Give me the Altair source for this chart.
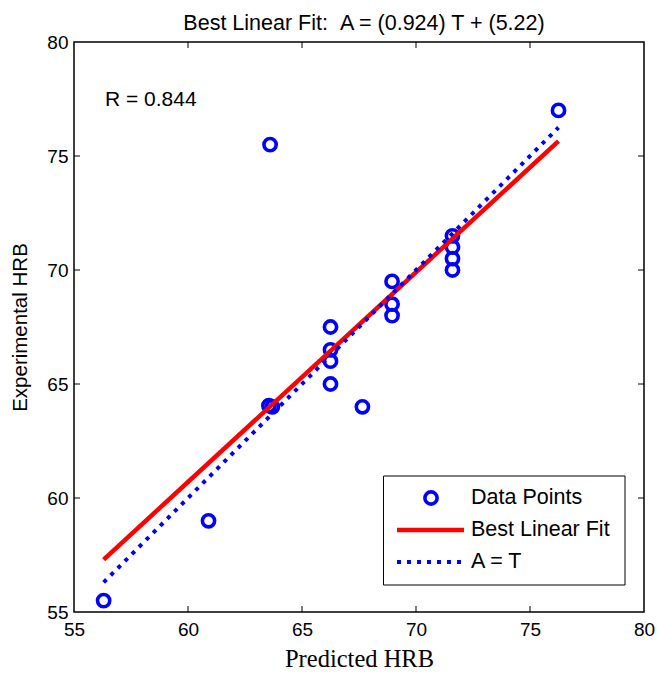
import altair as alt
import pandas as pd

# ---- data ----
predicted = [56.3, 60.9, 63.55, 63.7, 63.6, 66.25, 66.25, 66.25, 66.25, 67.65,
             68.95, 68.95, 68.95, 71.6, 71.6, 71.6, 71.6, 76.25]
experimental = [55.5, 59.0, 64.05, 64.0, 75.5, 67.5, 66.5, 66.0, 65.0, 64.0,
                69.5, 68.5, 68.0, 71.5, 71.0, 70.5, 70.0, 77.0]

fit_x = [56.3, 76.25]
fit_y = [57.3, 75.65]
ident_x = [56.3, 76.25]
ident_y = [56.3, 76.25]

tick_values = [60, 65, 70, 75]
axis_values = [55, 60, 65, 70, 75, 80]
legend_labels = ["Data Points", "Best Linear Fit", "A = T"]
title_text = "Best Linear Fit: \u00a0A = (0.924) T + (5.22)"
r_text = "R = 0.844"

W, H = 570, 570
BLUE = "#0000ff"
RED = "#ff0000"
SANS = "Liberation Sans"

pts = pd.DataFrame({"T": predicted, "A": experimental})
fit = pd.DataFrame({"T": fit_x, "A": fit_y})
ident = pd.DataFrame({"T": ident_x, "A": ident_y})
ticks = pd.DataFrame({"T": tick_values, "A": tick_values})
one = pd.DataFrame({"k": [0]})

xs = alt.Scale(domain=[55, 80], nice=False, zero=False)
ys = alt.Scale(domain=[55, 80], nice=False, zero=False)

xaxis = alt.Axis(values=axis_values, grid=False, ticks=False, domain=False,
                 labelFlush=False, labelOverlap=False,
                 labelFont=SANS, labelFontSize=19, labelPadding=8,
                 labelColor="black", title="Predicted HRB",
                 titleFont="Liberation Serif", titleFontSize=24.5,
                 titleFontWeight="normal", titleColor="black", titlePadding=8)
yaxis = alt.Axis(values=axis_values, grid=False, ticks=False, domain=False,
                 labelFlush=False, labelOverlap=False,
                 labelFont=SANS, labelFontSize=19, labelPadding=6,
                 labelColor="black", title="Experimental HRB",
                 titleFont=SANS, titleFontSize=20.5, titleFontWeight="normal",
                 titleColor="black", titlePadding=16)

X = alt.X("T:Q", scale=xs, axis=xaxis)
Y = alt.Y("A:Q", scale=ys, axis=yaxis)

points = alt.Chart(pts).mark_point(
    shape="circle", filled=False, color=BLUE, strokeWidth=3.6, size=150, opacity=1
).encode(x=X, y=Y)

fit_line = alt.Chart(fit).mark_line(color=RED, strokeWidth=4.5).encode(x=X, y=Y)
ident_line = alt.Chart(ident).mark_line(
    color=BLUE, strokeWidth=4, strokeDash=[4, 6], strokeCap="butt"
).encode(x=X, y=Y)

# inward ticks on all four sides
tk = alt.Chart(ticks).mark_rule(color="black", strokeWidth=1)
t_bottom = tk.encode(x=X, y=alt.value(H), y2=alt.value(H - 6))
t_top = tk.encode(x=X, y=alt.value(0), y2=alt.value(6))
t_left = tk.encode(y=Y, x=alt.value(0), x2=alt.value(6))
t_right = tk.encode(y=Y, x=alt.value(W), x2=alt.value(W - 6))

r_label = alt.Chart(one).mark_text(
    text=r_text, font=SANS, fontSize=21, align="left", baseline="middle", color="black"
).encode(x=alt.value(31), y=alt.value(58))

# legend box
lg_box = alt.Chart(one).mark_rect(fill="white", stroke="black", strokeWidth=1).encode(
    x=alt.value(309.5), x2=alt.value(551), y=alt.value(434), y2=alt.value(543)
)
lg_pt = alt.Chart(one).mark_point(
    shape="circle", filled=False, color=BLUE, strokeWidth=3.6, size=150, opacity=1
).encode(x=alt.value(357), y=alt.value(456))
lg_red = alt.Chart(one).mark_rule(color=RED, strokeWidth=4.5).encode(
    x=alt.value(323), x2=alt.value(390), y=alt.value(488)
)
lg_blue = alt.Chart(one).mark_rule(
    color=BLUE, strokeWidth=4, strokeDash=[4, 6], strokeCap="butt"
).encode(x=alt.value(323), x2=alt.value(390), y=alt.value(520))


def lg_text(label, ypos):
    return alt.Chart(one).mark_text(
        text=label, font=SANS, fontSize=21.5, align="left", baseline="middle", color="black"
    ).encode(x=alt.value(397), y=alt.value(ypos))


chart = alt.layer(
    points, fit_line, ident_line,
    t_bottom, t_top, t_left, t_right,
    r_label,
    lg_box, lg_pt, lg_red, lg_blue,
    lg_text(legend_labels[0], 456),
    lg_text(legend_labels[1], 488),
    lg_text(legend_labels[2], 520),
).properties(
    width=W, height=H,
    title=alt.TitleParams(text=title_text, font=SANS, fontSize=21.5,
                          fontWeight="normal", color="black", frame="group",
                          offset=-1, dx=5),
    autosize=alt.AutoSizeParams(type="none"),
    padding={"left": 74, "top": 42, "right": 13, "bottom": 63},
    background="white",
).configure_view(stroke="black", strokeWidth=1.5)

chart.save("out.html", embed_options={"renderer": "svg", "actions": False})
